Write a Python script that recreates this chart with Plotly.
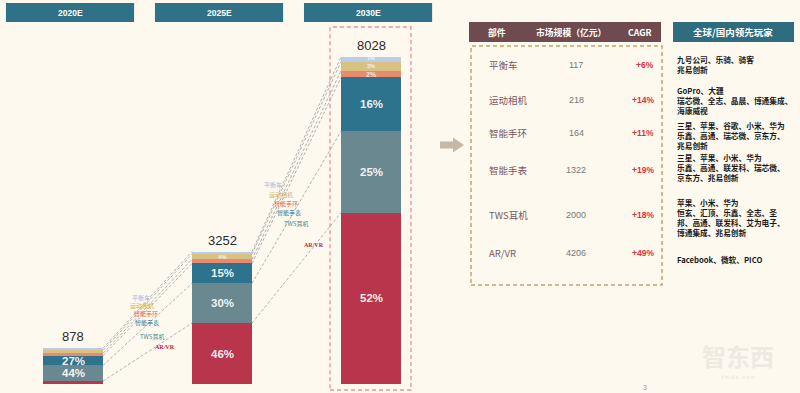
import plotly.graph_objects as go

# ---------------- data ----------------
years = ["2020E", "2025E", "2030E"]
totals = [878, 3252, 8028]

# stacked segments, bottom to top (亿元)
seg_names = ["AR/VR", "TWS耳机", "智能手表", "智能手环", "运动相机", "平衡车"]
arvr = [70, 1496, 4206]
tws = [386, 976, 2000]
watch = [237, 488, 1322]
band = [61, 98, 164]
camera = [70, 130, 218]
balance = [53, 65, 117]
series = [arvr, tws, watch, band, camera, balance]
seg_colors = ["#b9354b", "#6a8890", "#2e738d", "#e98a6e", "#d7c283", "#bccbe9"]
label_colors = ["#c0243a", "#5a7f88", "#2e738d", "#e8604a", "#d2b45a", "#9db3e0"]

# table (2030E)
table_parts = ["平衡车", "运动相机", "智能手环", "智能手表", "TWS耳机", "AR/VR"]
table_size = [117, 218, 164, 1322, 2000, 4206]
table_cagr = ["+6%", "+14%", "+11%", "+19%", "+18%", "+49%"]
table_players = [
    ["九号公司、乐骑、骑客", "兆易创新"],
    ["GoPro、大疆", "瑞芯微、全志、晶晨、博通集成、", "海康威视"],
    ["三星、苹果、谷歌、小米、华为", "乐鑫、高通、瑞芯微、京东方、", "兆易创新"],
    ["三星、苹果、小米、华为", "乐鑫、高通、联发科、瑞芯微、", "京东方、兆易创新"],
    ["苹果、小米、华为", "恒玄、汇顶、乐鑫、全志、圣", "邦、高通、联发科、艾为电子、", "博通集成、兆易创新"],
    ["Facebook、微软、PICO"],
]

# ---------------- layout helpers ----------------
W, H = 800, 393
BG = "#fdf9ef"
SANS = "Liberation Sans, Arial, sans-serif"
CJK = "Noto Sans CJK SC, sans-serif"
BAR_W = 0.4027
XR = [-0.49, 4.879]
YR = [-221, 9428]


def px(x):
    return x / W


def py(y):
    return 1 - y / H


def ann(x, y, text, size, color, family=SANS, xref="paper", yref="paper",
        xanchor="center", yanchor="middle", **kw):
    d = dict(x=x, y=y, xref=xref, yref=yref, text=text, showarrow=False,
             xanchor=xanchor, yanchor=yanchor,
             font=dict(family=family, size=size, color=color))
    d.update(kw)
    return d


xs = list(range(len(years)))
fig = go.Figure()

for name, vals, col in zip(seg_names, series, seg_colors):
    fig.add_trace(go.Bar(x=xs, y=vals, name=name, width=BAR_W,
                         marker=dict(color=col, line=dict(width=0)),
                         hoverinfo="skip", showlegend=False))

shapes = []
annotations = []

# cumulative boundaries
cums = []
for i in range(len(years)):
    c = [0]
    for s in series:
        c.append(c[-1] + s[i])
    cums.append(c)

# percentage labels inside segments
for i in range(len(years)):
    for k, s in enumerate(series):
        v = s[i]
        pct = round(v / totals[i] * 100)
        mid = cums[i][k] + v / 2
        if pct >= 10:
            annotations.append(ann(xs[i], mid, f"<b>{pct}%</b>", 11.5, "rgba(255,255,255,0.93)",
                                   xref="x", yref="y"))
        elif i == 2:
            annotations.append(ann(xs[i], mid, f"<b>{pct}%</b>", 7 if k == 3 else 5.5,
                                   "rgba(255,255,255,0.8)", xref="x", yref="y",
                                   yshift=1 if k == 5 else 0))
        elif i == 1 and k == 4:
            annotations.append(ann(xs[i], mid, f"<b>{pct}%</b>", 6, "rgba(255,255,255,0.8)",
                                   xref="x", yref="y"))
    # totals
    annotations.append(ann(xs[i], totals[i], str(totals[i]), 13, "#2b2b2b",
                           xref="x", yref="y", yanchor="bottom", yshift=2))

# connector lines between bars
for i in range(len(years) - 1):
    for k in range(1, len(series) + 1):
        shapes.append(dict(type="line", xref="x", yref="y",
                           x0=xs[i] + BAR_W / 2, y0=cums[i][k],
                           x1=xs[i + 1] - BAR_W / 2, y1=cums[i + 1][k],
                           line=dict(color="#b0b0b0", width=1, dash="3px,2px"), layer="below"))

# small legend-like labels along connectors (pixel positions)
gap_label_pos = [
    [(165, 347), (152, 336), (147, 322), (146, 313), (142, 305), (141, 297)],
    [(314, 245), (296, 223), (289, 212), (286, 203), (281, 194), (273, 185)],
]
for g in range(2):
    for k, name in enumerate(seg_names):
        x, y = gap_label_pos[g][k]
        fnt = CJK if k != 0 else "Liberation Serif, serif"
        txt = f"<b>{name}</b>" if k == 0 else name
        annotations.append(ann(px(x), py(y), txt, 6, label_colors[k], family=fnt))

# year header boxes
for i, yr in enumerate(years):
    shapes.append(dict(type="rect", xref="x", yref="paper", x0=xs[i] - 0.45, x1=xs[i] + 0.41,
                       y0=py(22), y1=py(3), fillcolor="#2f7186", line=dict(width=0)))
    annotations.append(ann(xs[i] - 0.02, py(12.5), f"<b>{yr}</b>", 8.5, "white", xref="x"))

# dashed red frame around 2030E
shapes.append(dict(type="rect", xref="x", yref="paper", x0=xs[2] - 0.275, x1=xs[2] + 0.268,
                   y0=py(390), y1=py(27), line=dict(color="#e792a0", width=1.3, dash="4px,3px")))

# arrow
ax0, ax1, ax2, ayc = 440, 453, 464, 145
path = (f"M {px(ax0)},{py(ayc - 3.5)} L {px(ax1)},{py(ayc - 3.5)} L {px(ax1)},{py(ayc - 7.5)} "
        f"L {px(ax2)},{py(ayc)} L {px(ax1)},{py(ayc + 7.5)} L {px(ax1)},{py(ayc + 3.5)} "
        f"L {px(ax0)},{py(ayc + 3.5)} Z")
shapes.append(dict(type="path", xref="paper", yref="paper", path=path,
                   fillcolor="#c6b8a6", line=dict(width=0)))

# table headers
shapes.append(dict(type="rect", xref="paper", yref="paper", x0=px(469), x1=px(661),
                   y0=py(42), y1=py(22), fillcolor="#6f4b50", line=dict(width=0)))
shapes.append(dict(type="rect", xref="paper", yref="paper", x0=px(673), x1=px(794),
                   y0=py(42), y1=py(22), fillcolor="#2f6c7e", line=dict(width=0)))
for txt, x in [("<b>部件</b>", 497), ("<b>市场规模（亿元）</b>", 571), ("<b>CAGR</b>", 640)]:
    annotations.append(ann(px(x), py(32), txt, 8.8, "white", family=CJK))
annotations.append(ann(px(733), py(32), "<b>全球/国内领先玩家</b>", 9.5, "white", family=CJK))

# dashed table frame
shapes.append(dict(type="rect", xref="paper", yref="paper", x0=px(471), x1=px(662),
                   y0=py(285), y1=py(46), line=dict(color="#c0a56c", width=1.5, dash="4px,3px")))

row_y = [65, 100, 133, 170, 215, 253]
player_y = [64, 100, 135, 167, 217, 259]
for r, part in enumerate(table_parts):
    y = row_y[r]
    annotations.append(ann(px(487), py(y), part, 9.5, "#7a5a5e", family=CJK, xanchor="left"))
    annotations.append(ann(px(576), py(y), str(table_size[r]), 9, "#777777"))
    annotations.append(ann(px(656), py(y), f"<b>{table_cagr[r]}</b>", 8.5, "#e0303a", xanchor="right"))
    annotations.append(ann(px(675), py(player_y[r]),
                           "<br>".join(f"<b>{t}</b>" for t in table_players[r]),
                           7.7, "#1a1a1a", family=CJK, xanchor="left", align="left"))

# watermark and page number
annotations.append(ann(px(738), py(355), "<b>智东西</b>", 24, "#eeeae2", family=CJK))
annotations.append(ann(px(738), py(377), "z h i d x . c o m", 5, "#e4dfd5"))
annotations.append(ann(px(645), py(393), "3", 7, "#999999", yanchor="bottom"))

fig.update_layout(
    width=W, height=H, margin=dict(l=0, r=0, t=0, b=0),
    paper_bgcolor=BG, plot_bgcolor="rgba(0,0,0,0)",
    barmode="stack", bargap=0,
    xaxis=dict(range=XR, visible=False, fixedrange=True),
    yaxis=dict(range=YR, visible=False, fixedrange=True),
    shapes=shapes, annotations=annotations,
)

fig.write_html("out.html")
